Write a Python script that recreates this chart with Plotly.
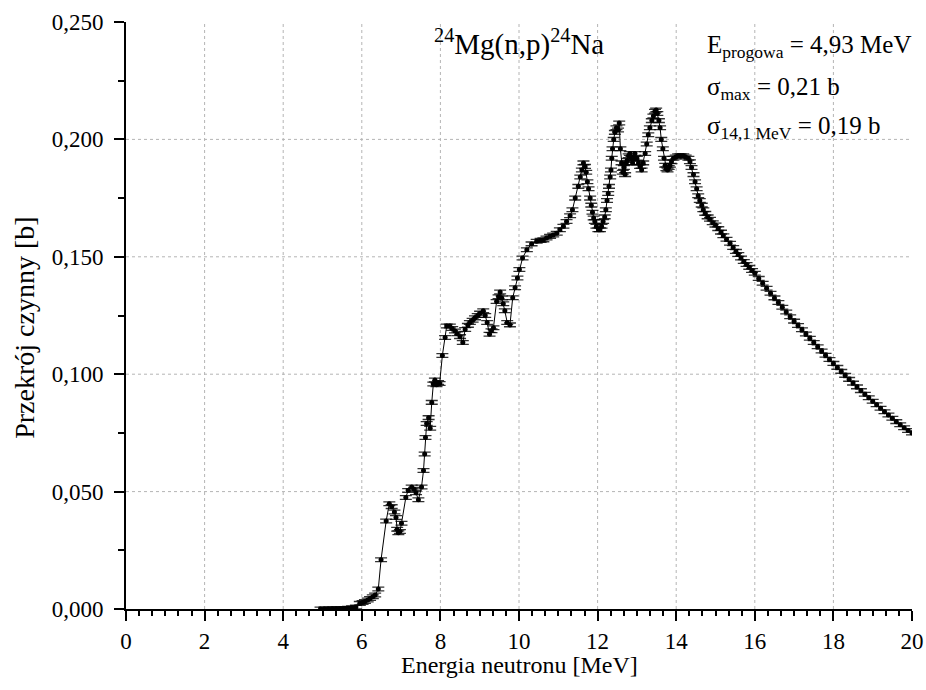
import plotly.graph_objects as go

# ---- data ----
energy_mev = [
    4.95, 5.05, 5.15, 5.25, 5.35, 5.45, 5.55, 5.65, 5.75, 5.85,
    5.95, 6.02, 6.08, 6.15, 6.21, 6.28, 6.34, 6.42, 6.49, 6.62,
    6.70, 6.76, 6.83, 6.87, 6.90, 6.93, 6.97, 7.01, 7.12, 7.18,
    7.27, 7.33, 7.38, 7.44, 7.52, 7.57, 7.60, 7.62, 7.65, 7.70,
    7.74, 7.78, 7.82, 7.86, 7.90, 7.94, 7.98, 8.05, 8.12, 8.16,
    8.24, 8.30, 8.37, 8.43, 8.50, 8.57, 8.63, 8.70, 8.75, 8.82,
    8.88, 8.95, 9.01, 9.09, 9.14, 9.19, 9.25, 9.30, 9.35, 9.43,
    9.48, 9.52, 9.56, 9.60, 9.64, 9.70, 9.77, 9.84, 9.90, 9.96,
    10.01, 10.09, 10.20, 10.32, 10.45, 10.55, 10.62, 10.70, 10.79, 10.87,
    10.96, 11.04, 11.13, 11.21, 11.30, 11.36, 11.43, 11.51, 11.56, 11.60,
    11.64, 11.68, 11.71, 11.74, 11.77, 11.81, 11.84, 11.87, 11.90, 11.93,
    11.97, 12.02, 12.06, 12.10, 12.14, 12.18, 12.21, 12.24, 12.27, 12.29,
    12.32, 12.34, 12.36, 12.38, 12.41, 12.44, 12.48, 12.52, 12.55, 12.58,
    12.61, 12.64, 12.67, 12.70, 12.73, 12.75, 12.79, 12.82, 12.86, 12.89,
    12.92, 12.95, 13.00, 13.04, 13.08, 13.12, 13.16, 13.21, 13.25, 13.29,
    13.33, 13.38, 13.42, 13.46, 13.49, 13.52, 13.56, 13.59, 13.62, 13.66,
    13.69, 13.72, 13.75, 13.78, 13.81, 13.84, 13.88, 13.93, 13.99, 14.05,
    14.11, 14.18, 14.24, 14.31, 14.35, 14.39, 14.44, 14.48, 14.52, 14.56,
    14.60, 14.65, 14.69, 14.74, 14.80, 14.86, 14.93, 15.00, 15.07, 15.14,
    15.20, 15.28, 15.37, 15.45, 15.52, 15.58, 15.65, 15.72, 15.79, 15.86,
    15.93, 16.0, 16.1, 16.2, 16.3, 16.4, 16.5, 16.6, 16.7, 16.8,
    16.9, 17.0, 17.1, 17.2, 17.3, 17.4, 17.5, 17.6, 17.7, 17.8,
    17.9, 18.0, 18.1, 18.2, 18.3, 18.4, 18.5, 18.6, 18.7, 18.8,
    18.9, 19.0, 19.1, 19.2, 19.3, 19.4, 19.5, 19.6, 19.7, 19.8,
    19.9, 20.0,
]
cross_section_b = [
    0.0000, 0.0000, 0.0000, 0.0001, 0.0001, 0.0001, 0.0002, 0.0003, 0.0005, 0.0008,
    0.0024, 0.0028, 0.0032, 0.0038, 0.0045, 0.0052, 0.0060, 0.0085, 0.0210, 0.0375,
    0.0448, 0.0436, 0.0413, 0.0390, 0.0340, 0.0325, 0.0330, 0.0365, 0.0475, 0.0505,
    0.0520, 0.0510, 0.0495, 0.0465, 0.0520, 0.0590, 0.0660, 0.0730, 0.0790, 0.0815,
    0.0770, 0.0880, 0.0958, 0.0975, 0.0955, 0.0965, 0.0960, 0.1080, 0.1156, 0.1205,
    0.1205, 0.1195, 0.1184, 0.1172, 0.1160, 0.1135, 0.1190, 0.1208, 0.1220, 0.1230,
    0.1240, 0.1250, 0.1260, 0.1270, 0.1250, 0.1220, 0.1170, 0.1185, 0.1198, 0.1310,
    0.1330, 0.1350, 0.1325, 0.1300, 0.1270, 0.1220, 0.1210, 0.1326, 0.1368, 0.1410,
    0.1446, 0.1495, 0.1530, 0.1555, 0.1566, 0.1570, 0.1572, 0.1580, 0.1587, 0.1593,
    0.1600, 0.1615, 0.1630, 0.1650, 0.1675, 0.1700, 0.1750, 0.1800, 0.1840, 0.1870,
    0.1900, 0.1885, 0.1860, 0.1820, 0.1790, 0.1750, 0.1720, 0.1690, 0.1665, 0.1650,
    0.1630, 0.1615, 0.1615, 0.1630, 0.1650, 0.1670, 0.1700, 0.1740, 0.1770, 0.1800,
    0.1840, 0.1870, 0.1920, 0.1960, 0.2000, 0.2030, 0.2050, 0.2040, 0.2070, 0.1960,
    0.1900, 0.1860, 0.1880, 0.1850, 0.1900, 0.1910, 0.1930, 0.1940, 0.1920, 0.1900,
    0.1920, 0.1940, 0.1920, 0.1900, 0.1885, 0.1870, 0.1900, 0.1940, 0.1980, 0.2020,
    0.2050, 0.2080, 0.2100, 0.2120, 0.2125, 0.2110, 0.2080, 0.2050, 0.2000, 0.1960,
    0.1920, 0.1890, 0.1875, 0.1870, 0.1880, 0.1890, 0.1905, 0.1920, 0.1925, 0.1930,
    0.1930, 0.1930, 0.1925, 0.1920, 0.1905, 0.1880, 0.1850, 0.1820, 0.1790, 0.1760,
    0.1740, 0.1720, 0.1700, 0.1685, 0.1670, 0.1660, 0.1645, 0.1635, 0.1620, 0.1605,
    0.1590, 0.1575, 0.1558, 0.1540, 0.1523, 0.1510, 0.1495, 0.1480, 0.1467, 0.1455,
    0.1442, 0.1430, 0.1408, 0.1387, 0.1366, 0.1345, 0.1325, 0.1305, 0.1285, 0.1265,
    0.1245, 0.1226, 0.1207, 0.1189, 0.1171, 0.1153, 0.1135, 0.1117, 0.1099, 0.1081,
    0.1063, 0.1046, 0.1029, 0.1012, 0.0995, 0.0978, 0.0962, 0.0946, 0.0930, 0.0915,
    0.0900, 0.0885, 0.0870, 0.0855, 0.0840, 0.0826, 0.0812, 0.0798, 0.0785, 0.0772,
    0.0760, 0.0750,
]

x_tick_vals = [0, 2, 4, 6, 8, 10, 12, 14, 16, 18, 20]
y_tick_vals = [0.0, 0.05, 0.10, 0.15, 0.20, 0.25]
x_grid_vals = [2, 4, 6, 8, 10, 12, 14, 16, 18]
y_grid_vals = [0.05, 0.10, 0.15, 0.20]

reaction_label = "<sup>24</sup>Mg(n,p)<sup>24</sup>Na"
info_lines = [
    "E<sub>progowa</sub> = 4,93 MeV",
    "σ<sub>max</sub> = 0,21 b",
    "σ<sub>14,1 MeV</sub> = 0,19 b",
]
info_y = [0.2395, 0.2217, 0.2052]

x_title = "Energia neutronu [MeV]"
y_title = "Przekrój czynny [b]"

FONT = "Liberation Serif"

fig = go.Figure()
fig.add_trace(go.Scatter(
    x=energy_mev, y=cross_section_b, mode="lines+markers",
    line=dict(color="black", width=1),
    marker=dict(color="black", size=5),
    error_y=dict(type="constant", value=0.0008, color="rgba(0,0,0,0.8)",
                 thickness=1.3, width=6),
    showlegend=False,
))

shapes = []
for gx in x_grid_vals:
    shapes.append(dict(type="line", xref="x", yref="paper", x0=gx, x1=gx, y0=0, y1=1,
                       line=dict(color="#b4b4b4", width=1, dash="dot"), layer="below"))
for gy in y_grid_vals:
    shapes.append(dict(type="line", xref="paper", yref="y", x0=0, x1=1, y0=gy, y1=gy,
                       line=dict(color="#b4b4b4", width=1, dash="dot"), layer="below"))

annotations = [
    dict(text=reaction_label, x=10, y=0.2412, xref="x", yref="y", showarrow=False,
         xanchor="center", yanchor="middle", font=dict(family=FONT, size=29, color="black")),
    dict(text=x_title, x=0.5, y=-0.095, xref="paper", yref="paper", showarrow=False,
         xanchor="center", yanchor="middle", font=dict(family=FONT, size=24, color="black")),
    dict(text=y_title, x=-0.1285, y=0.479, xref="paper", yref="paper", showarrow=False,
         textangle=-90, xanchor="center", yanchor="middle",
         font=dict(family=FONT, size=28, color="black")),
]
for txt, yy in zip(info_lines, info_y):
    annotations.append(dict(text=txt, x=14.72, y=yy, xref="x", yref="y", showarrow=False,
                            xanchor="left", yanchor="middle", align="left",
                            font=dict(family=FONT, size=25, color="black")))

fig.update_layout(
    width=926, height=690, autosize=False,
    margin=dict(l=126, r=14, t=22, b=81, autoexpand=False),
    paper_bgcolor="white", plot_bgcolor="white",
    separators=",.",
    font=dict(family=FONT, size=23, color="black"),
    shapes=shapes, annotations=annotations,
    xaxis=dict(range=[0, 20], tickvals=x_tick_vals, ticktext=[str(v) for v in x_tick_vals],
               automargin=False,
               showgrid=False, zeroline=False, showline=True, linecolor="black", linewidth=2,
               ticks="outside", ticklen=10, tickwidth=2, tickcolor="black",
               tickfont=dict(family=FONT, size=23, color="black"),
               minor=dict(dtick=1/3, tick0=0, ticks="outside", ticklen=5, tickwidth=2,
                          tickcolor="black", showgrid=False)),
    yaxis=dict(range=[0, 0.25], tickvals=y_tick_vals, tickformat=".3f",
               automargin=False,
               showgrid=False, zeroline=False, showline=True, linecolor="black", linewidth=2,
               ticks="outside", ticklen=10, tickwidth=2, tickcolor="black",
               ticklabelstandoff=6,
               tickfont=dict(family=FONT, size=23, color="black"),
               minor=dict(dtick=0.025, tick0=0, ticks="outside", ticklen=6, tickwidth=2,
                          tickcolor="black", showgrid=False)),
)

fig.write_html("out.html")
